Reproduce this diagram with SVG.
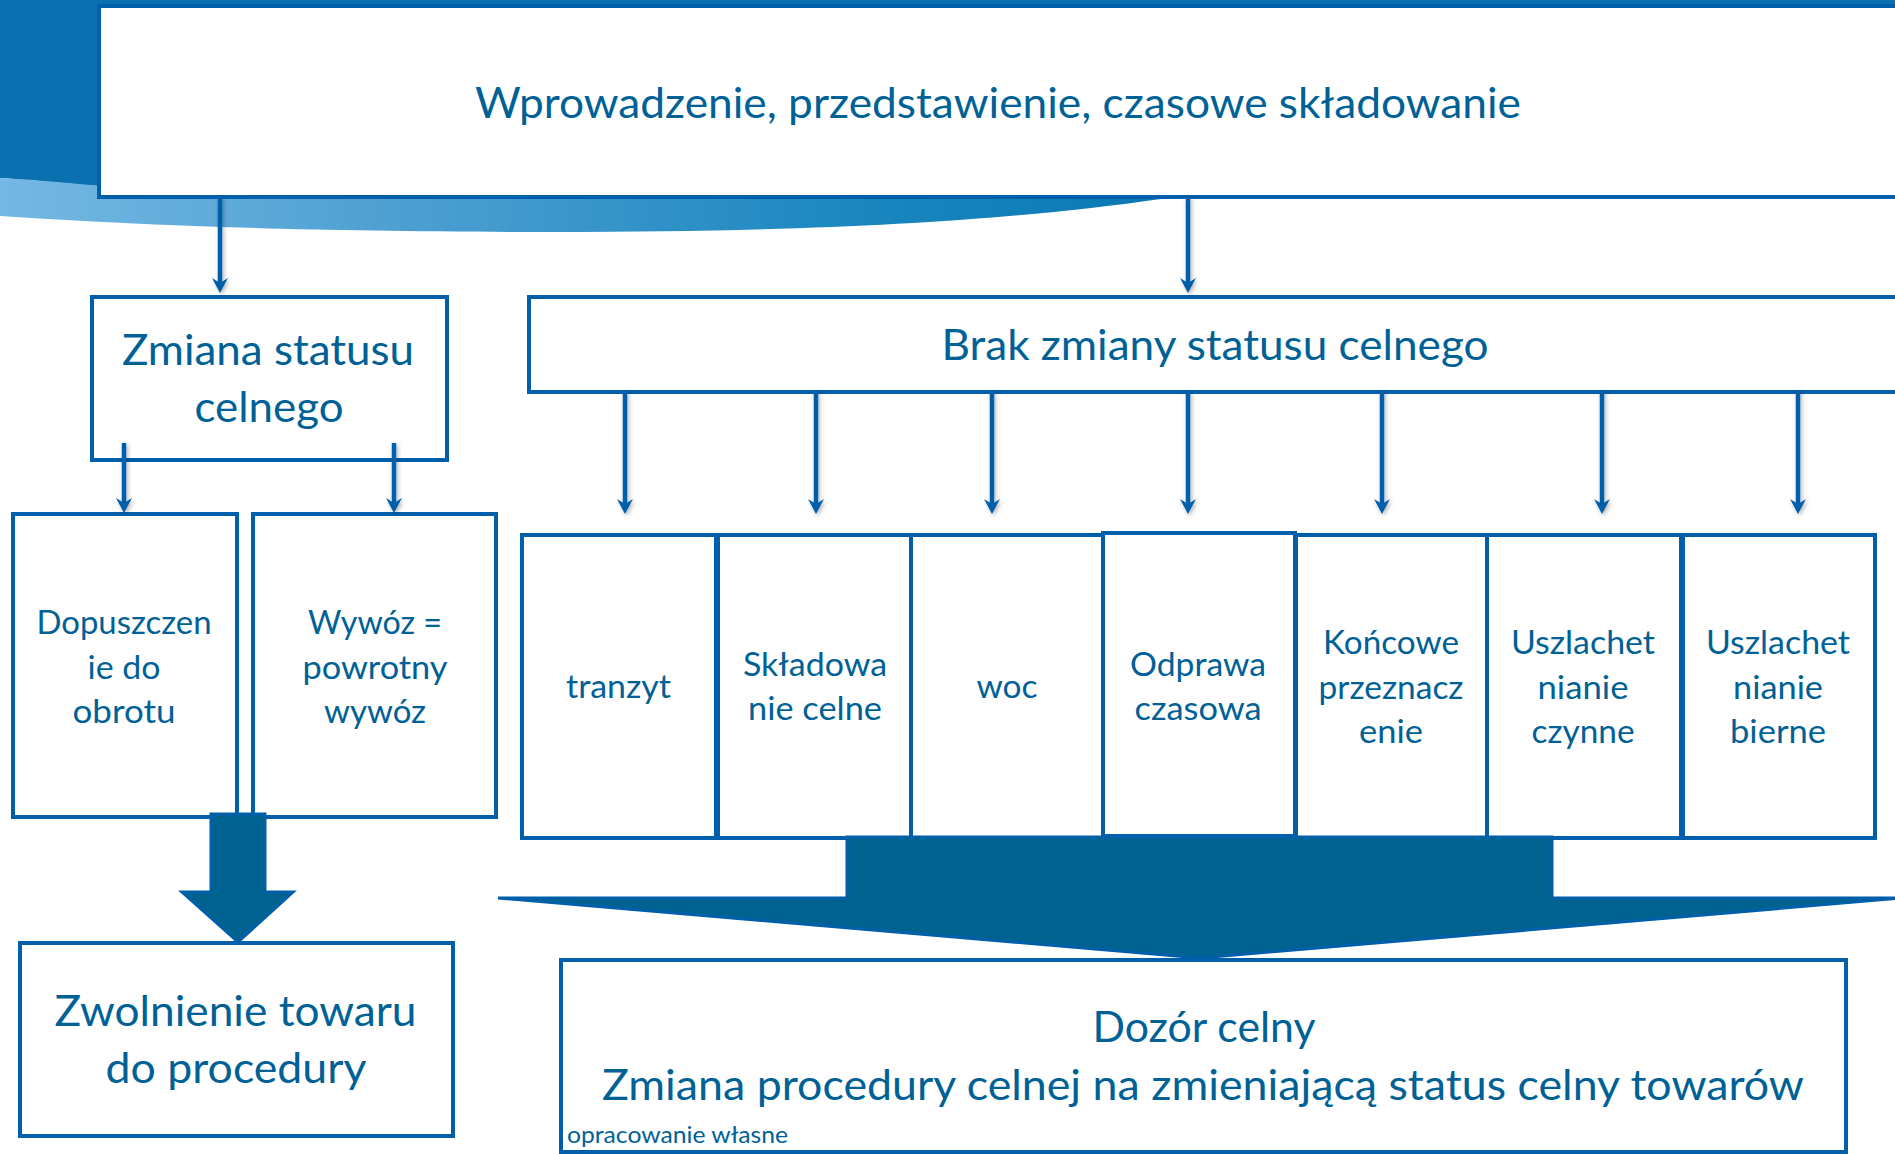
<svg xmlns="http://www.w3.org/2000/svg" width="1895" height="1154" viewBox="0 0 1895 1154">
  <style>
    .box { fill: #ffffff; stroke: #005fab; stroke-width: 4; }
    .t { font-family: Lato, "Open Sans", "Liberation Sans", sans-serif; fill: #006196; text-anchor: middle; }
    .big { font-size: 42px; }
    .mid { font-size: 32px; }
    .small { font-size: 23px; text-anchor: start; }
    .ln { stroke: #005fab; stroke-width: 4.5; fill: none; marker-end: url(#head); }
    .fat { fill: #00628f; stroke: #005fab; stroke-width: 3; stroke-linejoin: miter; }
  </style>
  <defs>
    <linearGradient id="swoosh" x1="0" y1="0" x2="1" y2="0">
      <stop offset="0" stop-color="#75b8e3"/>
      <stop offset="0.35" stop-color="#4c9fd1"/>
      <stop offset="0.75" stop-color="#1a86bf"/>
      <stop offset="1" stop-color="#0a79b4"/>
    </linearGradient>
    <filter id="shadow" x="-50%" y="-10%" width="200%" height="120%">
      <feDropShadow dx="1.5" dy="2" stdDeviation="2" flood-color="#000000" flood-opacity="0.3"/>
    </filter>
    <marker id="head" viewBox="-8 -8 16 16" markerWidth="16" markerHeight="16" markerUnits="userSpaceOnUse" refX="0" refY="0" orient="auto" overflow="visible">
      <path d="M8,0 L-7,-8 L-2,0 L-7,8 Z" fill="#005fab"/>
    </marker>
  </defs>

  <g id="background">
    <rect x="0" y="0" width="1895" height="1154" fill="#ffffff"/>
    <path d="M0,0 L1895,0 L1895,196 L99,186 C60,183 30,180 0,178 Z" fill="#0a70b0"/>
    <path d="M0,178 C40,180 80,184 120,188 L1161,197 L1161,199 C1000,222 800,233 520,232 C300,231 150,226 0,216 Z" fill="url(#swoosh)"/>
  </g>

  <g id="node-wprowadzenie">
    <rect class="box" x="99" y="6" width="1820" height="191"/>
    <text class="t big" x="998" y="118" textLength="1046" lengthAdjust="spacingAndGlyphs">Wprowadzenie, przedstawienie, czasowe składowanie</text>
  </g>

  <g id="node-zmiana-statusu">
    <rect class="box" x="92" y="297" width="355" height="163"/>
    <text class="t big" x="268" y="365" textLength="292" lengthAdjust="spacingAndGlyphs">Zmiana statusu</text>
    <text class="t big" x="269" y="422" textLength="149" lengthAdjust="spacingAndGlyphs">celnego</text>
  </g>

  <g id="node-brak-zmiany">
    <rect class="box" x="529" y="297" width="1400" height="95"/>
    <text class="t big" x="1215" y="360" textLength="547" lengthAdjust="spacingAndGlyphs">Brak zmiany statusu celnego</text>
  </g>

  <g id="node-dopuszczenie">
    <rect class="box" x="13" y="514" width="224" height="303"/>
    <text class="t mid" x="124" y="634" textLength="175" lengthAdjust="spacingAndGlyphs">Dopuszczen</text>
    <text class="t mid" x="124" y="679" textLength="73" lengthAdjust="spacingAndGlyphs">ie do</text>
    <text class="t mid" x="124" y="723" textLength="103" lengthAdjust="spacingAndGlyphs">obrotu</text>
  </g>

  <g id="node-wywoz">
    <rect class="box" x="253" y="514" width="243" height="303"/>
    <text class="t mid" x="375" y="634" textLength="134" lengthAdjust="spacingAndGlyphs">Wywóz =</text>
    <text class="t mid" x="375" y="679" textLength="145" lengthAdjust="spacingAndGlyphs">powrotny</text>
    <text class="t mid" x="375" y="723" textLength="102" lengthAdjust="spacingAndGlyphs">wywóz</text>
  </g>

  <g id="node-tranzyt">
    <rect class="box" x="522" y="535" width="194" height="303"/>
    <text class="t mid" x="618.5" y="698" textLength="105" lengthAdjust="spacingAndGlyphs">tranzyt</text>
  </g>

  <g id="node-skladowanie">
    <rect class="box" x="718" y="535" width="193" height="303"/>
    <text class="t mid" x="815" y="676" textLength="144" lengthAdjust="spacingAndGlyphs">Składowa</text>
    <text class="t mid" x="815" y="720" textLength="134" lengthAdjust="spacingAndGlyphs">nie celne</text>
  </g>

  <g id="node-woc">
    <rect class="box" x="911" y="535" width="192" height="303"/>
    <text class="t mid" x="1007" y="698" textLength="61" lengthAdjust="spacingAndGlyphs">woc</text>
  </g>

  <g id="node-odprawa">
    <rect class="box" x="1103" y="533" width="192" height="303"/>
    <text class="t mid" x="1198" y="676" textLength="136" lengthAdjust="spacingAndGlyphs">Odprawa</text>
    <text class="t mid" x="1198" y="720" textLength="127" lengthAdjust="spacingAndGlyphs">czasowa</text>
  </g>

  <g id="node-koncowe">
    <rect class="box" x="1296" y="535" width="191" height="303"/>
    <text class="t mid" x="1391" y="654" textLength="136" lengthAdjust="spacingAndGlyphs">Końcowe</text>
    <text class="t mid" x="1391" y="699" textLength="145" lengthAdjust="spacingAndGlyphs">przeznacz</text>
    <text class="t mid" x="1391" y="743" textLength="64" lengthAdjust="spacingAndGlyphs">enie</text>
  </g>

  <g id="node-uszl-czynne">
    <rect class="box" x="1487" y="535" width="194" height="303"/>
    <text class="t mid" x="1583" y="654" textLength="144" lengthAdjust="spacingAndGlyphs">Uszlachet</text>
    <text class="t mid" x="1583" y="699" textLength="91" lengthAdjust="spacingAndGlyphs">nianie</text>
    <text class="t mid" x="1583" y="743" textLength="103" lengthAdjust="spacingAndGlyphs">czynne</text>
  </g>

  <g id="node-uszl-bierne">
    <rect class="box" x="1683" y="535" width="192" height="303"/>
    <text class="t mid" x="1778" y="654" textLength="144" lengthAdjust="spacingAndGlyphs">Uszlachet</text>
    <text class="t mid" x="1778" y="699" textLength="90" lengthAdjust="spacingAndGlyphs">nianie</text>
    <text class="t mid" x="1778" y="743" textLength="96" lengthAdjust="spacingAndGlyphs">bierne</text>
  </g>

  <g id="node-zwolnienie">
    <rect class="box" x="20" y="943" width="433" height="193"/>
    <text class="t big" x="235.5" y="1026" textLength="362" lengthAdjust="spacingAndGlyphs">Zwolnienie towaru</text>
    <text class="t big" x="236" y="1083" textLength="261" lengthAdjust="spacingAndGlyphs">do procedury</text>
  </g>

  <g id="node-dozor">
    <rect class="box" x="561" y="960" width="1285" height="192"/>
    <text class="t big" x="1204" y="1042" textLength="223" lengthAdjust="spacingAndGlyphs">Dozór celny</text>
    <text class="t big" x="1203" y="1100" textLength="1202" lengthAdjust="spacingAndGlyphs">Zmiana procedury celnej na zmieniającą status celny towarów</text>
    <text class="t small" x="567" y="1143" textLength="221" lengthAdjust="spacingAndGlyphs">opracowanie własne</text>
  </g>

  <g id="connectors">
    <g filter="url(#shadow)">
      <path class="ln" d="M220,197 V285"/>
      <path class="ln" d="M1188,197 V285"/>
      <path class="ln" d="M124,443 V505"/>
      <path class="ln" d="M394,443 V505"/>
      <path class="ln" d="M625,390 V506"/>
      <path class="ln" d="M816,390 V506"/>
      <path class="ln" d="M992,390 V506"/>
      <path class="ln" d="M1188,390 V506"/>
      <path class="ln" d="M1382,390 V506"/>
      <path class="ln" d="M1602,390 V506"/>
      <path class="ln" d="M1798,390 V506"/>
    </g>
    <path class="fat" d="M211,814 L265,814 L265,892 L293,892 L238,942 L182,892 L211,892 Z"/>
    <path class="fat" d="M847,837 L1552,837 L1552,898 L1902,898 L1200,958 L498,898 L847,898 Z"/>
  </g>
</svg>
